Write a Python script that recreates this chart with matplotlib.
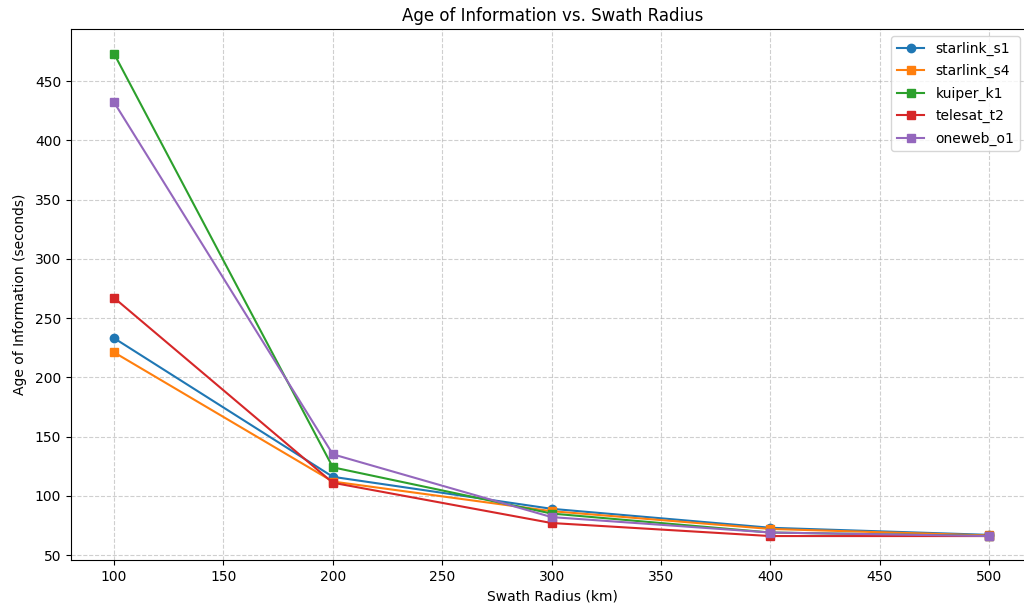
import matplotlib
matplotlib.use("Agg")
import matplotlib.pyplot as plt

radius = [100, 200, 300, 400, 500]
starlink_s1 = [233, 116, 89, 73, 67]
starlink_s4 = [221, 112, 87, 72, 66.5]
kuiper_k1 = [473, 124, 85, 69, 66]
telesat_t2 = [267, 111, 77, 66, 66]
oneweb_o1 = [432, 135, 82, 69, 66]

series = [
    ("starlink_s1", starlink_s1, "o"),
    ("starlink_s4", starlink_s4, "s"),
    ("kuiper_k1", kuiper_k1, "s"),
    ("telesat_t2", telesat_t2, "s"),
    ("oneweb_o1", oneweb_o1, "s"),
]

fig = plt.figure(figsize=(10.24, 6.09), dpi=100)
ax = fig.add_axes([71/1024, 1-560/609, 962.5/1024, 531/609])
for name, vals, mk in series:
    ax.plot(radius, vals, marker=mk, label=name)
ax.set_xlim(80.3, 520.3)
ax.set_ylim(45.8, 493.9)
ax.set_title("Age of Information vs. Swath Radius", fontsize=12)
ax.set_xlabel("Swath Radius (km)")
ax.set_ylabel("Age of Information (seconds)", labelpad=6)
ax.grid(True, linestyle="--", alpha=0.6)
ax.legend(loc="upper right", bbox_to_anchor=(1020/1024, 1-36/609),
          bbox_transform=fig.transFigure, borderaxespad=0, labelspacing=0.6)
fig.savefig("out.png", dpi=100)
